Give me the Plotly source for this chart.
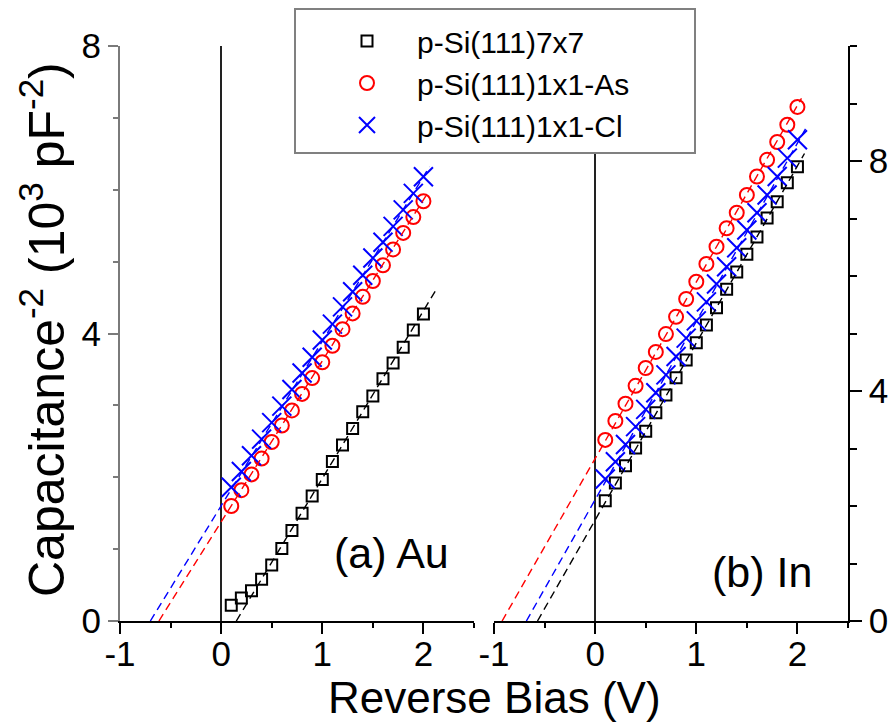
import plotly.graph_objects as go

# Reverse bias (V) at which each capacitance point was taken
bias = [0.1, 0.2, 0.3, 0.4, 0.5, 0.6, 0.7, 0.8, 0.9, 1.0,
        1.1, 1.2, 1.3, 1.4, 1.5, 1.6, 1.7, 1.8, 1.9, 2.0]

# (a) Au contacts, C^-2 in 10^3 pF^-2
au_7x7 = [0.22, 0.32, 0.42, 0.58, 0.78, 1.01, 1.26, 1.50, 1.74, 1.97,
          2.22, 2.45, 2.68, 2.91, 3.13, 3.37, 3.59, 3.81, 4.05, 4.27]
au_as = [1.60, 1.82, 2.04, 2.26, 2.49, 2.72, 2.93, 3.16, 3.38, 3.60,
         3.83, 4.06, 4.28, 4.51, 4.73, 4.95, 5.17, 5.40, 5.62, 5.84]
au_cl = [1.86, 2.08, 2.30, 2.53, 2.76, 2.99, 3.22, 3.45, 3.67, 3.91,
         4.13, 4.37, 4.58, 4.81, 5.05, 5.27, 5.49, 5.72, 5.95, 6.18]

# (b) In contacts
in_7x7 = [2.09, 2.40, 2.70, 3.01, 3.30, 3.62, 3.93, 4.23, 4.54, 4.84,
          5.15, 5.45, 5.77, 6.07, 6.38, 6.68, 7.01, 7.29, 7.62, 7.90]
in_as = [3.15, 3.48, 3.78, 4.09, 4.40, 4.68, 4.99, 5.29, 5.60, 5.90,
         6.21, 6.51, 6.83, 7.10, 7.41, 7.73, 8.02, 8.33, 8.63, 8.94]
in_cl = [2.47, 2.77, 3.07, 3.38, 3.68, 3.97, 4.28, 4.60, 4.92, 5.22,
         5.55, 5.86, 6.16, 6.49, 6.80, 7.10, 7.41, 7.73, 8.05, 8.37]

# Linear fits extrapolated to the voltage axis: end points (V, 10^3 pF^-2)
au_fit_7x7_v = [0.15, 2.13]
au_fit_7x7_c = [0.0, 4.62]
au_fit_as_v = [-0.615, 2.04]
au_fit_as_c = [0.0, 5.95]
au_fit_cl_v = [-0.70, 2.06]
au_fit_cl_c = [0.0, 6.32]
in_fit_7x7_v = [-0.57, 2.07]
in_fit_7x7_c = [0.0, 8.13]
in_fit_as_v = [-0.92, 2.04]
in_fit_as_c = [0.0, 9.09]
in_fit_cl_v = [-0.68, 2.08]
in_fit_cl_c = [0.0, 8.56]

series_names = ["p-Si(111)7x7", "p-Si(111)1x1-As", "p-Si(111)1x1-Cl"]
x_ticks = [-1, 0, 1, 2]
x_tick_text = ["-1", "0", "1", "2"]

FONT = "Liberation Sans, Arial, sans-serif"
W, H = 889, 724


def px_x(p):
    return p / W


def px_y(p):
    return 1 - p / H


styles = [
    dict(symbol="square-open", size=11, color="black", line=dict(width=2, color="black")),
    dict(symbol="circle-open", size=14, color="red", line=dict(width=2, color="red")),
    dict(symbol="x-thin-open", size=19, color="blue", line=dict(width=2, color="blue")),
]
fit_colors = ["black", "red", "blue"]

fig = go.Figure()

panels = [
    ("x", "y", [au_7x7, au_as, au_cl],
     [(au_fit_7x7_v, au_fit_7x7_c), (au_fit_as_v, au_fit_as_c), (au_fit_cl_v, au_fit_cl_c)]),
    ("x2", "y2", [in_7x7, in_as, in_cl],
     [(in_fit_7x7_v, in_fit_7x7_c), (in_fit_as_v, in_fit_as_c), (in_fit_cl_v, in_fit_cl_c)]),
]

for pi, (xa, ya, sets, fits) in enumerate(panels):
    for k, vals in enumerate(sets):
        fig.add_trace(go.Scatter(
            x=bias, y=vals, mode="markers", name=series_names[k],
            marker=styles[k], xaxis=xa, yaxis=ya,
            showlegend=(pi == 0), legendrank=k + 1,
        ))
    for k, (fv, fc) in enumerate(fits):
        fig.add_trace(go.Scatter(
            x=fv, y=fc, mode="lines", xaxis=xa, yaxis=ya, showlegend=False,
            line=dict(color=fit_colors[k], width=1.4, dash="8px,5px"),
            hoverinfo="skip",
        ))

GRAY = "#7a7a7a"
tickfont = dict(family=FONT, size=35, color="black")
ydom = [px_y(621), px_y(46)]
dom_a = [px_x(120), px_x(474)]
dom_b = [px_x(494), px_x(848)]

common_x = dict(
    range=[-1, 2.5], tickvals=x_ticks, ticktext=x_tick_text, ticks="outside",
    ticklen=11, tickwidth=1.5, tickcolor="black", showline=True, linecolor="black",
    linewidth=1.5, showgrid=False, zeroline=True, zerolinecolor="#222222",
    zerolinewidth=1.5, tickfont=tickfont, ticklabelstandoff=-10,
    minor=dict(dtick=0.5, tick0=0, ticks="outside", ticklen=5, tickwidth=1.5,
               tickcolor="black", showgrid=False),
)

fig.update_layout(
    width=W, height=H,
    margin=dict(l=0, r=0, t=0, b=0, pad=0, autoexpand=False),
    paper_bgcolor="white", plot_bgcolor="white",
    font=dict(family=FONT, color="black"),
    xaxis=dict(domain=dom_a, anchor="y", **common_x),
    xaxis2=dict(domain=dom_b, anchor="y2", **common_x),
    yaxis=dict(
        domain=ydom, anchor="x", range=[0, 8], tick0=0, dtick=4, ticks="outside",
        ticklen=10, tickwidth=1.5, tickcolor=GRAY, showline=True, linecolor=GRAY,
        linewidth=2, showgrid=False, zeroline=False, tickfont=tickfont,
        minor=dict(dtick=1, ticks="outside", ticklen=5, tickwidth=1.5,
                   tickcolor=GRAY, showgrid=False),
    ),
    yaxis3=dict(
        overlaying="y", side="right", anchor="x", range=[0, 8], dtick=1,
        ticks="inside", ticklen=5, tickwidth=1.5, tickcolor=GRAY,
        showticklabels=False, showline=True, linecolor=GRAY, linewidth=2,
        showgrid=False, zeroline=False,
    ),
    yaxis2=dict(
        domain=ydom, anchor="x2", side="right", range=[0, 10], tick0=0, dtick=4,
        ticks="outside", ticklen=12, tickwidth=1.5, tickcolor="black",
        showline=True, linecolor="black", linewidth=1.5, showgrid=False,
        zeroline=False, tickfont=tickfont,
        minor=dict(dtick=1, ticks="outside", ticklen=7, tickwidth=1.5,
                   tickcolor="black", showgrid=False),
    ),
    yaxis4=dict(
        overlaying="y2", side="left", anchor="x2", range=[0, 10], dtick=1,
        ticks="inside", ticklen=10, tickwidth=1.5, tickcolor=GRAY,
        showticklabels=False, showline=True, linecolor=GRAY, linewidth=2,
        showgrid=False, zeroline=False,
    ),
    xaxis3=dict(
        overlaying="x2", side="top", anchor="y2", range=[-1, 2.5], dtick=1, tick0=0,
        ticks="inside", ticklen=10, tickwidth=1.5, tickcolor=GRAY,
        showticklabels=False, showline=True, linecolor="#444444", linewidth=1.5,
        showgrid=False, zeroline=False,
        minor=dict(dtick=0.5, ticks="inside", ticklen=5, tickwidth=1.5, tickcolor=GRAY),
    ),
    legend=dict(
        x=px_x(317), y=px_y(15), xanchor="left", yanchor="top",
        bgcolor="rgba(0,0,0,0)", borderwidth=0, itemwidth=90,
        font=dict(family=FONT, size=30, color="black"),
        traceorder="normal",
    ),
    showlegend=True,
)

# Legend frame
fig.add_shape(
    type="rect", xref="paper", yref="paper",
    x0=px_x(295), x1=px_x(695), y0=px_y(153), y1=px_y(9),
    line=dict(color="#808080", width=2), fillcolor="white", layer="above",
)

# Axis titles and panel labels
label_common = dict(xref="paper", yref="paper", showarrow=False,
                    xanchor="center", yanchor="middle")
fig.add_annotation(
    x=px_x(494), y=px_y(697), text="Reverse Bias (V)",
    font=dict(family=FONT, size=44, color="black"), **label_common,
)
fig.add_annotation(
    x=px_x(43), y=px_y(330), textangle=-90,
    text="Capacitance<sup>-2</sup> (10<sup>3</sup> pF<sup>-2</sup>)",
    font=dict(family=FONT, size=50, color="black"), **label_common,
)
fig.add_annotation(
    x=px_x(391), y=px_y(553), text="(a) Au",
    font=dict(family=FONT, size=43, color="black"), **label_common,
)
fig.add_annotation(
    x=px_x(762), y=px_y(572), text="(b) In",
    font=dict(family=FONT, size=43, color="black"), **label_common,
)

fig.write_html("out.html")
